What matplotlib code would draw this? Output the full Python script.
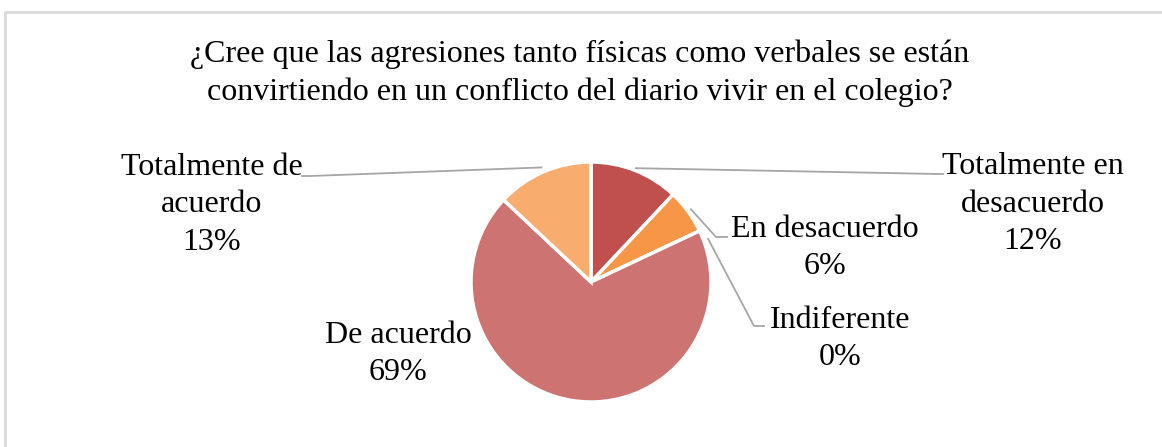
import numpy as np
import matplotlib
matplotlib.use('Agg')
from matplotlib import pyplot as plt

plt.rcParams['font.family'] = ['Liberation Serif', 'DejaVu Serif']

# chart data
title = '¿Cree que las agresiones tanto físicas como verbales se están\nconvirtiendo en un conflicto del diario vivir en el colegio?'
categories = ['Totalmente en\ndesacuerdo', 'En desacuerdo', 'Indiferente', 'De acuerdo', 'Totalmente de\nacuerdo']
percents = [12, 6, 0, 69, 13]
colors = ['#C0504D', '#F79646', '#9BBB59', '#CD7371', '#F8AC6D']

W, H = 1162, 447
FS = 23
LS = 1.38
fig = plt.figure(figsize=(W / 100, H / 100), dpi=100)
ax = fig.add_axes([0, 0, 1, 1])

# frame (only left and top edges visible in the crop)
ax.plot([4.5, 4.5, W], [0, H - 11.5, H - 11.5], color='#D9D9D9', lw=2, solid_capstyle='butt')

cx, cy, r = 591, H - 282, 120
wedges, _ = ax.pie(percents, colors=colors, startangle=90, counterclock=False,
                   center=(cx, cy), radius=r, frame=True,
                   wedgeprops=dict(edgecolor='white', linewidth=2.5))
ax.set_xlim(0, W)
ax.set_ylim(0, H)
ax.set_aspect('equal')
ax.axis('off')

ax.text(580, H - 73, title, ha='center', va='center', fontsize=FS, linespacing=LS)

# label layout: (text center x, text center y, elbow x, elbow y, end x, anchor radius factor)
layout = [
    (1033, H - 204, 938, H - 174, 943, 1.02),
    (825, H - 248, 716, H - 237, 727, 1.03),
    (840, H - 339, 754, H - 326, 764, 1.04),
    (398, H - 354, None, None, None, None),
    (212, H - 205, 310, H - 176, 302, 1.04),
]

for w, cat, p, lay in zip(wedges, categories, percents, layout):
    tx, ty, ex, ey, endx, rf = lay
    ax.text(tx, ty, f'{cat}\n{p}%', ha='center', va='center', fontsize=FS, linespacing=LS)
    if ex is None:
        continue
    mid = np.deg2rad((w.theta1 + w.theta2) / 2)
    if p == 0:
        mid = np.deg2rad(w.theta1) - np.deg2rad(5)
    ax0 = cx + r * rf * np.cos(mid)
    ay0 = cy + r * rf * np.sin(mid)
    ax.plot([ax0, ex, endx], [ay0, ey, ey], color='#A6A6A6', lw=1.3)

fig.savefig('out.png', dpi=100)
